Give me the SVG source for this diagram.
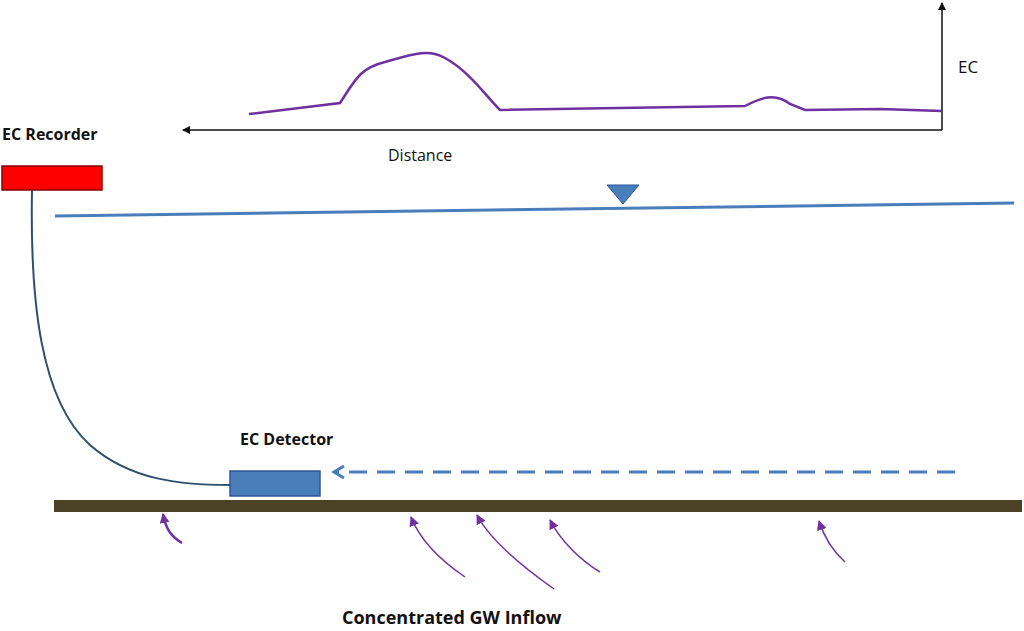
<svg xmlns="http://www.w3.org/2000/svg" width="1024" height="631" viewBox="0 0 1024 631">
<style>
text{font-family:"Open Sans","Liberation Sans",sans-serif;fill:#111}
.gw{fill:none;stroke:#7030a0;stroke-width:1.5}
</style>
<defs>
<marker id="ah" markerWidth="8" markerHeight="8" refX="7" refY="4" orient="auto" markerUnits="userSpaceOnUse"><path d="M0,0 L8,4 L0,8z" fill="#111"/></marker>
<marker id="pa" markerWidth="10" markerHeight="10" refX="9" refY="5" orient="auto" markerUnits="userSpaceOnUse"><path d="M0,0 L10,5 L0,10z" fill="#7030a0"/></marker>
<marker id="ba" markerWidth="14" markerHeight="14" refX="11" refY="7" orient="auto" markerUnits="userSpaceOnUse"><path d="M1,1 L11,7 L1,13" fill="none" stroke="#4a7ebb" stroke-width="3"/></marker>
</defs>
<rect width="1024" height="631" fill="#fff"/>
<g id="chart">
<line x1="942" y1="130" x2="942" y2="3" stroke="#111" stroke-width="1.5" marker-end="url(#ah)"/>
<line x1="942" y1="130" x2="183" y2="130" stroke="#111" stroke-width="1.5" marker-end="url(#ah)"/>
<text x="958" y="73" font-size="17">EC</text>
<text x="388" y="161" font-size="16">Distance</text>
<path d="M249,114 L340,103 C355,80 360,68 385,62 C410,55 428,48 445,58 C470,72 485,95 500,110 L745,106 C760,98 775,92 790,104 L805,110 L880,109 L942,111" fill="none" stroke="#7030a0" stroke-width="2.5"/>
</g>
<g id="recorder">
<rect x="2" y="166" width="100" height="24" fill="#ff0000" stroke="#8b0000" stroke-width="1.5"/>
<text x="2" y="140" font-size="16" font-weight="bold">EC Recorder</text>
</g>
<g id="water">
<line x1="55" y1="216" x2="1014" y2="203" stroke="#4a7ebb" stroke-width="3"/>
<path d="M607,185 L639,185 L623,204z" fill="#4a7ebb" stroke="#2f5597"/>
</g>
<g id="detector">
<rect x="230" y="471" width="90" height="25" fill="#4a7ebb" stroke="#2f5597" stroke-width="1.5"/>
<text x="240" y="445" font-size="16" font-weight="bold">EC Detector</text>
</g>
<g id="bed"><rect x="54" y="500" width="968" height="12" fill="#4b4228"/></g>
<g id="connectors">
<path d="M32,190 C30,300 40,400 90,445 C130,480 180,485 230,485" fill="none" stroke="#2f4f6f" stroke-width="2"/>
<line x1="955" y1="472" x2="334" y2="472" stroke="#4a7ebb" stroke-width="3" stroke-dasharray="18,10" marker-end="url(#ba)"/>
<path class="gw" d="M182,543 C172,537 166,530 163,514" marker-end="url(#pa)" style="stroke-width:2.5"/>
<path class="gw" d="M465,577 C440,560 420,540 411,517" marker-end="url(#pa)"/>
<path class="gw" d="M554,589 C520,565 490,540 477,515" marker-end="url(#pa)"/>
<path class="gw" d="M600,572 C580,560 560,540 550,520" marker-end="url(#pa)"/>
<path class="gw" d="M845,562 C835,553 825,540 819,521" marker-end="url(#pa)"/>
</g>
<text x="342" y="624" font-size="18" font-weight="bold">Concentrated GW Inflow</text>
</svg>
